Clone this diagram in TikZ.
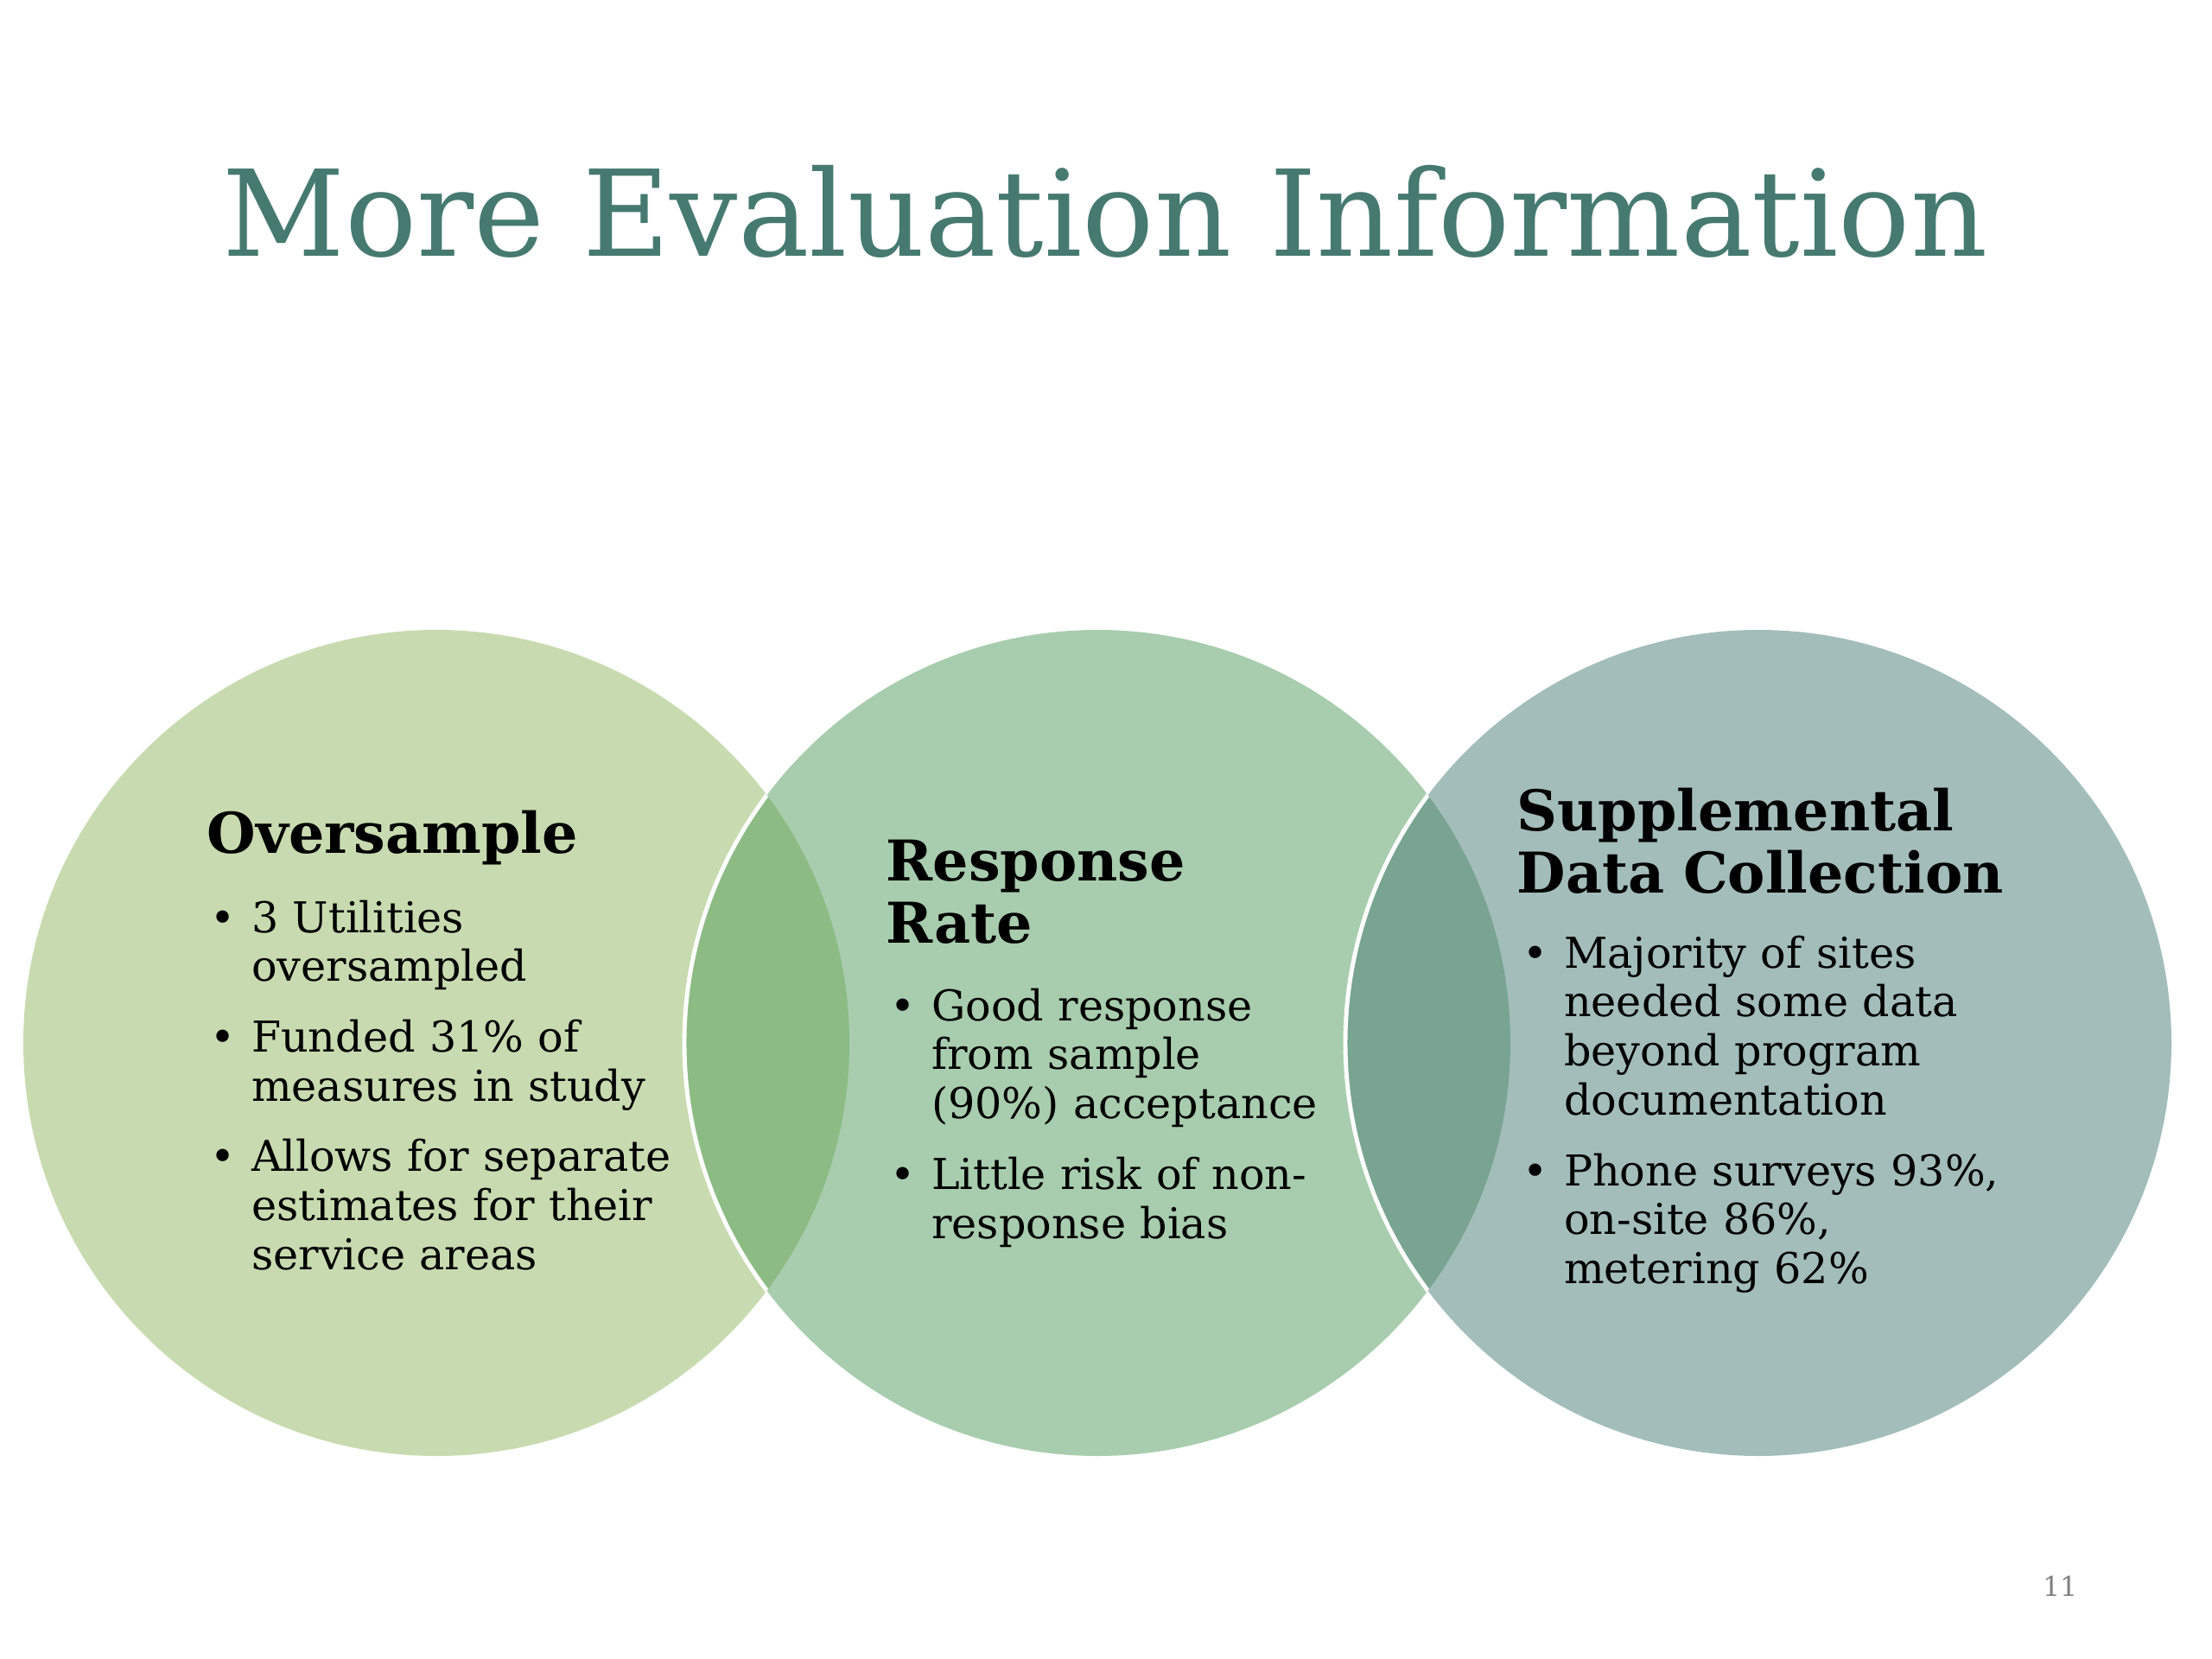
\documentclass[tikz,border=0pt]{standalone}
\usepackage{fontspec}
\setmainfont{DejaVu Serif}
\definecolor{titleTeal}{RGB}{70,122,112}
\definecolor{vennLeft}{RGB}{200,219,176}
\definecolor{vennMid}{RGB}{168,205,174}
\definecolor{vennRight}{RGB}{163,189,186}
\definecolor{vennLM}{RGB}{140,187,132}
\definecolor{vennMR}{RGB}{120,164,145}
\usepackage{tikz}
\usetikzlibrary{positioning}
\newcommand{\bul}{\makebox[13.5pt][l]{\textbullet}}
\newcommand{\ind}{\hspace*{13.5pt}}

\begin{document}
\begin{tikzpicture}[
    head/.style={anchor=base west, inner sep=0pt, text width=12cm, align=left,
      font=\fontsize{18.5pt}{20.5pt}\selectfont\bfseries},
    body/.style={anchor=base west, inner sep=0pt, text width=12cm, align=left,
      font=\fontsize{14pt}{16.2pt}\selectfont}]
    \useasboundingbox (0,0) rectangle (25.6,-19.2);

    \node[anchor=base, inner sep=0pt, text=titleTeal, font=\fontsize{39.4pt}{44pt}\selectfont]
      (title) at (12.79,-2.97) {More Evaluation Information};

    % Venn circles
    \coordinate (cLeft) at (5.05,-12.07);
    \coordinate (cMid) at (12.70,-12.07);
    \coordinate (cRight) at (20.35,-12.07);
    \fill[vennLeft] (cLeft) circle (4.78);
    \fill[vennMid] (cMid) circle (4.78);
    \fill[vennRight] (cRight) circle (4.78);

    % Overlaps
    \begin{scope}
      \clip (cLeft) circle (4.78);
      \fill[vennLM] (cMid) circle (4.78);
      \draw[white, line width=1.4pt] (cMid) circle (4.78);
    \end{scope}
    \begin{scope}
      \clip (cMid) circle (4.78);
      \fill[vennMR] (cRight) circle (4.78);
      \draw[white, line width=1.4pt] (cRight) circle (4.78);
    \end{scope}

    % Texts
    \node[head] (overHead) at (2.39,-9.87) {Oversample};
    \node[body] (overBody) at (2.43,-10.79) {%
      \bul 3 Utilities\\
      \ind oversampled\\[6.9pt]
      \bul Funded 31\% of\\
      \ind measures in study\\[6.9pt]
      \bul Allows for separate\\
      \ind estimates for their\\
      \ind service areas};

    \node[head] (respHead) at (10.25,-10.19) {Response\\Rate};
    \node[body] (respBody) at (10.30,-11.81) {%
      \bul Good response\\
      \ind from sample\\
      \ind (90\%) acceptance\\[6.9pt]
      \bul Little risk of non-\\
      \ind response bias};

    \node[head] (suppHead) at (17.55,-9.61) {Supplemental\\Data Collection};
    \node[body] (suppBody) at (17.62,-11.20) {%
      \bul Majority of sites\\
      \ind needed some data\\
      \ind beyond program\\
      \ind documentation\\[6.9pt]
      \bul Phone surveys 93\%,\\
      \ind on-site 86\%,\\
      \ind metering 62\%};

    \node[anchor=base east, inner sep=0pt, text=gray, font=\fontsize{9pt}{10pt}\selectfont]
      (pageNo) at (24.05,-18.47) {11};
  \end{tikzpicture}
\end{document}
